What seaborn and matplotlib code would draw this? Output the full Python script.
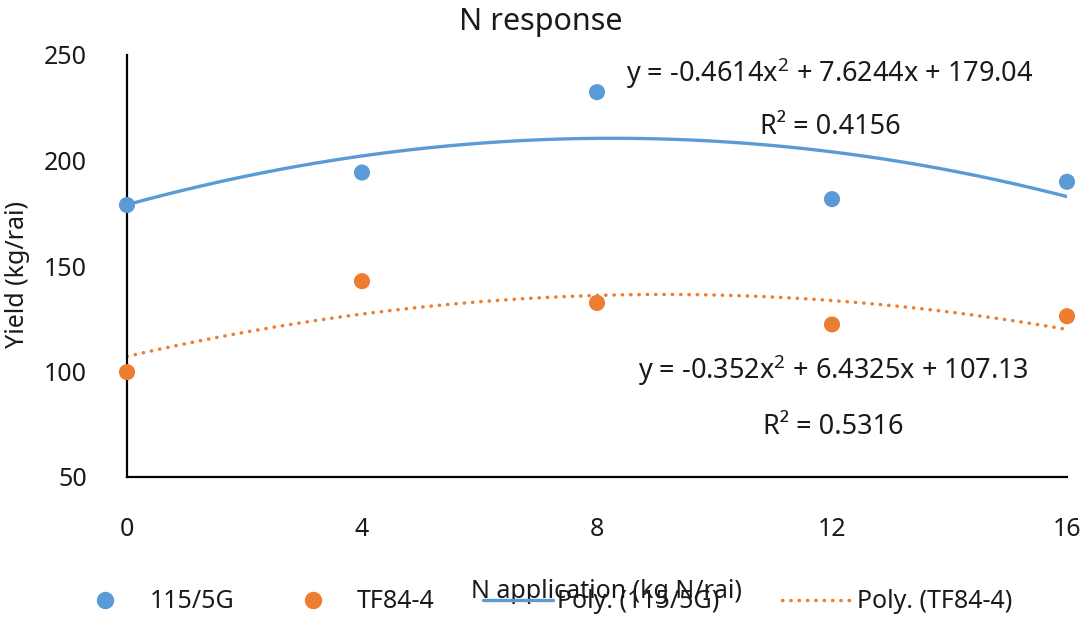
import numpy as np
import pandas as pd
import matplotlib
matplotlib.use("Agg")
import matplotlib.pyplot as plt
from matplotlib.lines import Line2D
import seaborn as sns

# N rates (kg N/rai) and yields (kg/rai) for two varieties
n_rates = [0, 4, 8, 12, 16]
yield_115 = [178.9, 194.3, 232.4, 181.7, 189.9]
yield_tf84 = [99.7, 142.8, 132.5, 122.3, 126.2]

# second-order polynomial trendline coefficients (a*x^2 + b*x + c)
coef_115 = [-0.4614, 7.6244, 179.04]
coef_tf84 = [-0.352, 6.4325, 107.13]
r2_115 = 0.4156
r2_tf84 = 0.5316

x_ticks = [0, 4, 8, 12, 16]
y_ticks = [50, 100, 150, 200, 250]

BLUE = "#5B9BD5"
ORANGE = "#ED7D31"
INK = "#1a1a1a"
W, H = 1091, 619

sns.set_theme(style="white")
plt.rcParams["font.family"] = ["Noto Sans", "DejaVu Sans"]
plt.rcParams["mathtext.default"] = "regular"

fig = plt.figure(figsize=(W / 100, H / 100), dpi=100)
ax = fig.add_axes([127 / W, 1 - 477 / H, 940 / W, 422 / H])


def fx(px):
    return px / W


def fy(py):
    return 1 - py / H


points = pd.DataFrame({
    "N": n_rates * 2,
    "Yield": yield_115 + yield_tf84,
    "Variety": ["115/5G"] * len(n_rates) + ["TF84-4"] * len(n_rates),
})

xs = np.linspace(min(n_rates), max(n_rates), 200)
trend_115 = pd.DataFrame({"N": xs, "Yield": np.polyval(coef_115, xs)})
trend_tf84 = pd.DataFrame({"N": xs, "Yield": np.polyval(coef_tf84, xs)})

DOTTED = (0, (0.1, 2.3))

sns.lineplot(data=trend_115, x="N", y="Yield", color=BLUE, linewidth=2.4,
             ax=ax, legend=False, zorder=2)
sns.lineplot(data=trend_tf84, x="N", y="Yield", color=ORANGE, linewidth=2.5,
             linestyle=DOTTED, dash_capstyle="round", ax=ax, legend=False, zorder=2)
sns.scatterplot(data=points, x="N", y="Yield", hue="Variety",
                palette={"115/5G": BLUE, "TF84-4": ORANGE}, s=135,
                edgecolor="none", ax=ax, legend=False, zorder=3, clip_on=False)

ax.set_xlim(0, 16)
ax.set_ylim(50, 250)
ax.set_xticks(x_ticks)
ax.set_yticks(y_ticks)
ax.tick_params(axis="x", length=0, pad=29, labelsize=18, colors=INK)
ax.tick_params(axis="y", length=0, pad=29, labelsize=18, colors=INK)
for side in ("top", "right"):
    ax.spines[side].set_visible(False)
for side in ("left", "bottom"):
    ax.spines[side].set_color("black")
    ax.spines[side].set_linewidth(1.6)

ax.set_xlabel("")
ax.set_ylabel("")
fig.text(fx(541), fy(22), "N response", ha="center", va="center", fontsize=22, color=INK)
fig.text(fx(18), fy(275), "Yield (kg/rai)", ha="center", va="center", rotation=90,
         fontsize=18, color=INK)
fig.text(fx(606), fy(592), "N application (kg N/rai)", ha="center", va="center",
         fontsize=18, color=INK)


def eq_text(c):
    return r"y = %gx$^{2}$ + %gx + %g" % (c[0], c[1], c[2])


for label, px, py in [
    (eq_text(coef_115), 830, 73),
    ("R² = %.4f" % r2_115, 830, 127),
    (eq_text(coef_tf84), 833, 370),
    ("R² = %.4f" % r2_tf84, 833, 427),
]:
    fig.text(fx(px), fy(py), label, ha="center", va="center", fontsize=19.5, color=INK)

# legend entries placed one by one along the bottom row
FS = 18
FS_PX = FS * 100 / 72
entries = [
    (Line2D([], [], marker="o", linestyle="none", color=BLUE, markersize=11.5),
     "115/5G", 105, 1.0, 150),
    (Line2D([], [], marker="o", linestyle="none", color=ORANGE, markersize=11.5),
     "TF84-4", 313, 1.0, 357),
    (Line2D([], [], color=BLUE, linewidth=2.4), "Poly. (115/5G)", 518, 70 / FS_PX, 557),
    (Line2D([], [], color=ORANGE, linewidth=2.5, linestyle=DOTTED, dash_capstyle="round"),
     "Poly. (TF84-4)", 816, 68 / FS_PX, 857),
]
for handle, text, center_px, hlen, text_px in entries:
    start_px = center_px - hlen * FS_PX / 2
    pad = (text_px - (start_px + hlen * FS_PX)) / FS_PX
    leg = fig.legend([handle], [text], loc="center left",
                     bbox_to_anchor=(fx(start_px), fy(602)), frameon=False,
                     fontsize=FS, handlelength=hlen, handletextpad=pad,
                     borderpad=0, borderaxespad=0, labelcolor=INK)

fig.savefig("out.png", dpi=100)
